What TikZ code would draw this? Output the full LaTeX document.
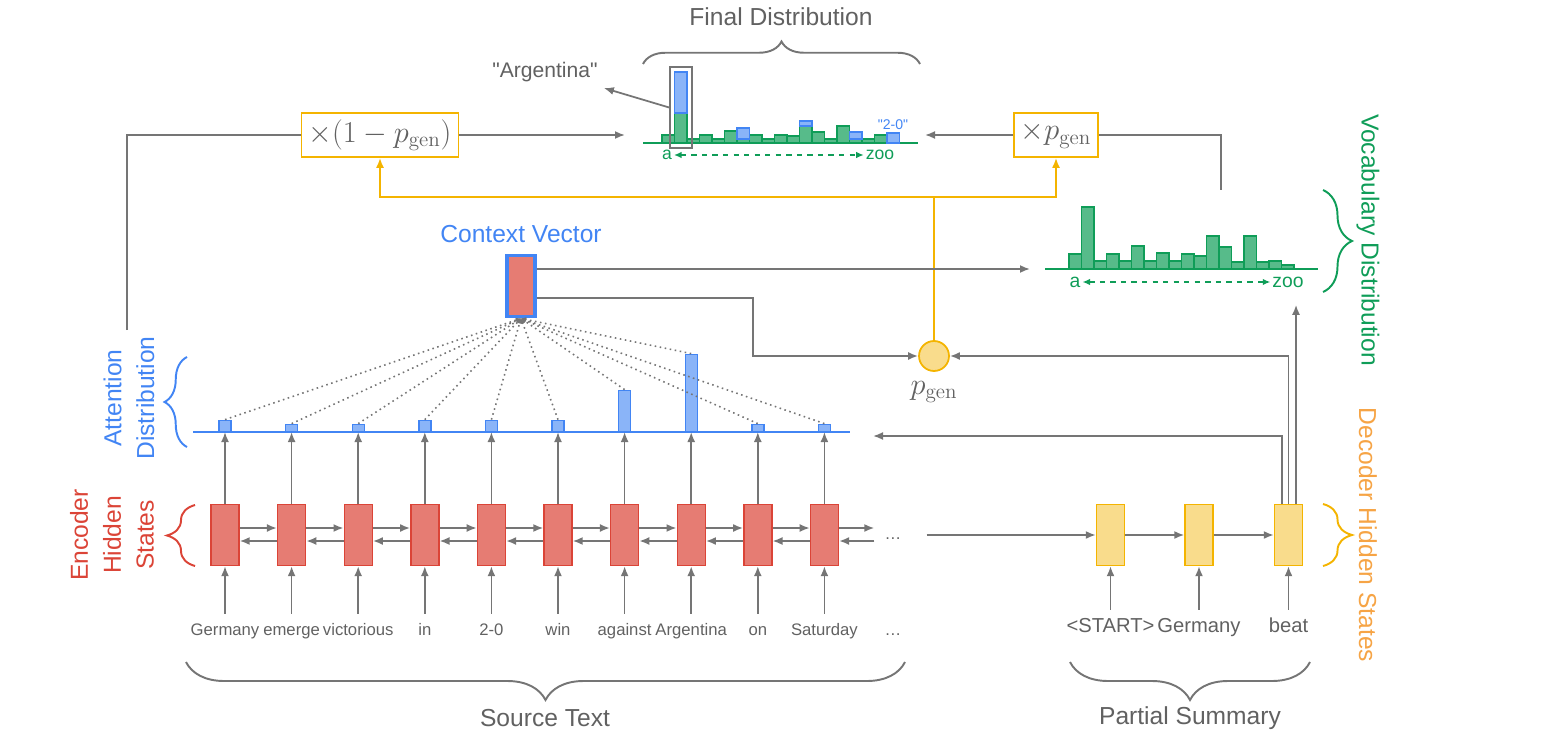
\documentclass[tikz,border=0pt]{standalone}
\usepackage[no-math]{fontspec}
\setmainfont{Liberation Sans}[Ligatures=TeXOff]
\usetikzlibrary{arrows.meta,decorations.pathreplacing}
\definecolor{txtgray}{HTML}{616161}
\definecolor{lngray}{HTML}{757575}
\definecolor{encred}{HTML}{DB4437}
\definecolor{encfill}{HTML}{E67C73}
\definecolor{attblue}{HTML}{4285F4}
\definecolor{attfill}{HTML}{8AB4F8}
\definecolor{vocgreen}{HTML}{0F9D58}
\definecolor{vocfill}{HTML}{57BB8A}
\definecolor{decyel}{HTML}{F4B400}
\definecolor{decfill}{HTML}{F9DC8C}
\definecolor{decorange}{HTML}{F6A445}
\newcommand{\vocbar}[3] {
    \draw[gbar] (#1, #2) rectangle ++(12.5, -#3);
}
\newcommand{\ptrbar}[4] {
    \draw[bbar] (#1, #2-#3) rectangle (#1+12.5, #2-#4);
}

\begin{document}
\begin{tikzpicture}
    \tikzset{
        x={(0.2mm,0mm)},y={(0mm,-0.2mm)},
        line/.style={draw=lngray,line width=1pt},
        arr/.style={line,-{Latex[length=2mm,width=1.6mm]}},
        yarr/.style={draw=decyel,line width=1pt,-{Latex[length=2mm,width=1.6mm]}},
        enc/.style={draw=encred,fill=encfill,line width=0.8pt,minimum width=5.6mm,
            minimum height=12.2mm,inner sep=0pt},
        dec/.style={draw=decyel,fill=decfill,line width=0.8pt,minimum width=5.6mm,
            minimum height=12.2mm,inner sep=0pt},
        att/.style={draw=attblue,fill=attfill,line width=0.8pt,minimum width=2.4mm,
            inner sep=0pt,anchor=south},
        gbar/.style={draw=vocgreen,fill=vocfill,line width=0.8pt},
        bbar/.style={draw=attblue,fill=attfill,line width=0.8pt},
        word/.style={text=txtgray,font=\fontsize{9.5}{11}\selectfont,text height=7pt,
            text depth=2pt,inner ysep=5pt,inner xsep=0pt},
        dword/.style={word,font=\fontsize{11.5}{13}\selectfont,text height=8.5pt,
            text depth=2.5pt,inner ysep=4pt},
        axis/.style={text=vocgreen,inner sep=1pt},
        gdash/.style={draw=vocgreen,dashed,line width=0.8pt,
            {Latex[length=1.5mm,width=1.3mm]}-{Latex[length=1.5mm,width=1.3mm]}},
        title/.style={font=\fontsize{14}{18.7}\selectfont,inner sep=0pt},
        mult/.style={draw=decyel,line width=1pt,minimum height=8.8mm,inner xsep=4pt,
            text=txtgray,font=\fontsize{17}{20}\selectfont},
        brc/.style={decorate,decoration={brace,amplitude=#1},line width=1.1pt},
    }
    \useasboundingbox (0,0) rectangle (1541,746);
    % attention distribution
    \coordinate (al) at (193,432);
    \coordinate (ar) at (850,432);
    \draw[attblue,line width=1.2pt] (al) -- (ar);
    % encoder
    \foreach \x/\w/\h [count=\i] in {225/Germany/11,291.6/emerge/7,358.2/victorious/7,
            424.8/in/11,491.4/2-0/11,558/win/11,624.6/against/41,691.2/Argentina/77,
            757.8/on/7,824.4/Saturday/7} {
        \node[enc] (e\i) at (\x,535) {};
        \node[word] (w\i) at (\x,631) {\w};
        \node[att,minimum height=\h*0.2mm] (a\i) at (\x,432) {};
        \draw[arr] (w\i) -- (e\i);
        \draw[arr] (e\i) -- (a\i.south);
    }
    \foreach \i/\j in {1/2,2/3,3/4,4/5,5/6,6/7,7/8,8/9,9/10} {
        \draw[arr] ([yshift=1.4mm]e\i.east) -- ([yshift=1.4mm]e\j.west);
        \draw[arr] ([yshift=-1.2mm]e\j.west) -- ([yshift=-1.2mm]e\i.east);
    }
    \node[word,inner xsep=2mm] (dots1) at (893,535) {\dots};
    \node[word] (dots2) at (893,631) {\dots};
    \draw[arr] ([yshift=1.4mm]e10.east) -- ([yshift=1.4mm]dots1.west);
    \draw[arr] ([yshift=-1.2mm]dots1.west) -- ([yshift=-1.2mm]e10.east);
    % context vector
    \node[draw=attblue,fill=encfill,line width=2.2pt,minimum width=5.6mm,
        minimum height=12.2mm,inner sep=0pt] (ctx) at (521,286) {};
    \node[title,text=attblue] (ctxlab) at (521,234) {Context Vector};
    \foreach \i in {1,...,10}
        \draw[lngray,dotted,line width=0.9pt,-{Latex[length=1mm,width=1mm]}] (a\i.north) -- (ctx.south);
    % vocabulary distribution
    \coordinate (vl) at (1045,269);
    \coordinate (vr) at (1318,269);
    \draw[vocgreen,line width=1.2pt] (vl) -- (vr);
    \foreach \h [count=\i from 0] in {15,62,8,15,8,23,8,16,8,15,13,33,22,7,33,7,8,4} {
        \vocbar{1069+12.5*\i}{269}{\h}
    }
    \node[axis,font=\fontsize{11}{13}\selectfont] (va) at (1075,282) {a};
    \node[axis,font=\fontsize{11}{13}\selectfont] (vz) at (1288,282) {zoo};
    \draw[gdash] (va) -- (vz);
    % final distribution
    \coordinate (fl) at (643,143);
    \coordinate (fr) at (918,143);
    \draw[vocgreen,line width=1.2pt] (fl) -- (fr);
    \foreach \h [count=\i from 0] in {8,30,4,8,4,12,4,8,4,8,7,17,11,4,17,4,4,8} {
        \vocbar{662+12.5*\i}{143}{\h}
    }
    \foreach \i/\lo/\hi in {1/30/71,6/4/15,11/17/22,15/4/11,18/0/10} {
        \ptrbar{662+12.5*\i}{143}{\lo}{\hi}
    }
    \node[draw=lngray,line width=1pt,minimum width=4.4mm,minimum height=16.2mm,
        inner sep=0pt] (hl) at (681,107.5) {};
    \node[text=txtgray,font=\fontsize{12}{14}\selectfont] (arg) at (545,72) {"Argentina"};
    \draw[arr] (hl.west) -- (arg.south east);
    \node[text=attblue,font=\fontsize{8}{9}\selectfont,inner sep=1pt] (oov) at (893,125) {"2-0"};
    \node[axis,font=\fontsize{10}{12}\selectfont] (fa) at (667,155) {a};
    \node[axis,font=\fontsize{10}{12}\selectfont] (fz) at (880,155) {zoo};
    \draw[gdash] (fa) -- (fz);
    \draw[brc=4.5mm,lngray] (643,64) -- (920,64);
    \node[title,text=txtgray] (fintitle) at (781,17) {Final Distribution};
    % switch
    \node[mult] (m1) at (380,135) {$\times(1-p_{\mathrm{gen}})$};
    \node[mult] (m2) at (1056,135) {$\times p_{\mathrm{gen}}$};
    \coordinate (lup) at (127,330);
    \coordinate (fin1) at (625,135);
    \coordinate (fin2) at (925,135);
    \coordinate (vtop) at (1221,190);
    \draw[line] (lup) |- (m1.west);
    \draw[arr] (m1.east) -- (fin1);
    \draw[arr] (m2.west) -- (fin2);
    \draw[line] (vtop) |- (m2.east);
    % generation probability
    \node[circle,draw=decyel,fill=decfill,line width=1pt,minimum size=6mm,
        inner sep=0pt] (pg) at (934,356) {};
    \node[text=txtgray,font=\fontsize{17}{20}\selectfont] (pglab) at (934,392) {$p_{\mathrm{gen}}$};
    \coordinate (ysplit) at (934,197);
    \draw[decyel,line width=1pt] (pg) -- (ysplit);
    \draw[yarr] (ysplit) -| (m1.south);
    \draw[yarr] (ysplit) -| (m2.south);
    \coordinate (vin) at (1030,269);
    \draw[arr] ([yshift=3.4mm]ctx.east) -- (vin);
    \draw[arr] ([yshift=-2.4mm]ctx.east) -- ++(216,0) |- (pg.west);
    % decoder
    \foreach \x/\w [count=\i] in {1110.5/\textless{}START\textgreater{},1199/Germany,1288.5/beat} {
        \node[dec] (d\i) at (\x,535) {};
        \node[dword] (dw\i) at (\x,627) {\w};
        \draw[arr] (dw\i) -- (d\i);
    }
    \draw[arr] (d1) -- (d2);
    \draw[arr] (d2) -- (d3);
    \draw[arr,shorten <=3mm] (dots1) -- (d1);
    \coordinate (ain) at (873,436);
    \draw[arr] ([xshift=-1.3mm]d3.north) |- (ain);
    \draw[arr] (d3.north) |- (pg.east);
    \draw[arr] ([xshift=1.5mm]d3.north) -- ++(0,-199);
    % braces
    \draw[brc=5.8mm,vocgreen] (1323,190) -- (1323,292);
    \node[title,text=vocgreen,rotate=-90] (voclab) at (1368,240) {Vocabulary Distribution};
    \draw[brc=5.8mm,decyel] (1323,504) -- (1323,566);
    \node[title,text=decorange,rotate=-90] (declab) at (1368,535) {Decoder Hidden States};
    \draw[brc=5.6mm,encred] (195,566) -- (195,505);
    \node[title,text=encred,rotate=90,align=center] (enclab) at (112,535) {Encoder\\Hidden\\States};
    \draw[brc=4.5mm,attblue] (187,447) -- (187,357);
    \node[title,text=attblue,rotate=90,align=center] (attlab) at (129,398) {Attention\\Distribution};
    \draw[brc=7.6mm,lngray] (905,662) -- (186,662);
    \node[title,text=txtgray] (srclab) at (545,718) {Source Text};
    \draw[brc=7.6mm,lngray] (1310,662) -- (1070,662);
    \node[title,text=txtgray] (sumlab) at (1190,718) {Partial Summary};
\end{tikzpicture}
\end{document}
